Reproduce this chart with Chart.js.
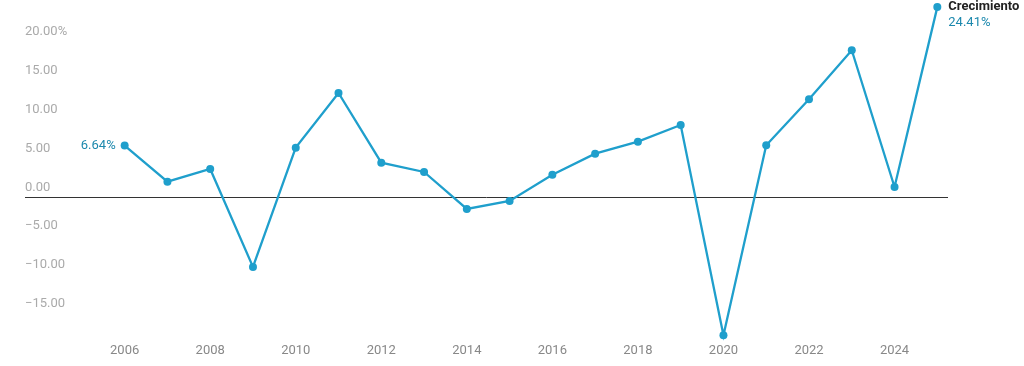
<!DOCTYPE html>
<html>
<head>
<meta charset="utf-8">
<script src="https://cdn.jsdelivr.net/npm/chart.js@4"></script>
<style>
  html, body { margin: 0; padding: 0; background: #fff; }
  #wrap { width: 1024px; height: 366px; }
</style>
</head>
<body>
<div id="wrap"><canvas id="growthChart" width="1024" height="366"></canvas></div>
<script>
// Crecimiento anual (%)
const years = [2006, 2007, 2008, 2009, 2010, 2011, 2012, 2013, 2014, 2015,
               2016, 2017, 2018, 2019, 2020, 2021, 2022, 2023, 2024, 2025];
const growth = [6.64, 2.00, 3.63, -8.95, 6.37, 13.39, 4.44, 3.25, -1.50, -0.47,
                2.90, 5.60, 7.14, 9.28, -17.72, 6.68, 12.58, 18.87, 1.32, 24.41];
const yTicks = [-15, -10, -5, 0, 5, 10, 15, 20];
const xTicks = years.filter((y, i) => i % 2 === 0);
const seriesName = 'Crecimiento';

const lineBlue = '#1f9fcc';
const labelBlue = '#1b88ad';
const font = "Roboto, 'Noto Sans', sans-serif";

function fmt(v) {
  const s = Math.abs(v).toFixed(2);
  return v < 0 ? '\u2212' + s : s;
}

// labels for first and last point
const endLabels = {
  id: 'endLabels',
  afterDatasetsDraw(chart) {
    const pts = chart.getDatasetMeta(0).data;
    const first = pts[0], last = pts[pts.length - 1];
    const ctx = chart.ctx;
    ctx.save();
    ctx.textBaseline = 'middle';
    ctx.font = '13px ' + font;
    ctx.fillStyle = labelBlue;
    ctx.textAlign = 'right';
    ctx.fillText(growth[0].toFixed(2) + '%', first.x - 9, first.y);
    ctx.textAlign = 'left';
    ctx.fillText(growth[growth.length - 1].toFixed(2) + '%', last.x + 11, last.y + 16);
    ctx.font = 'bold 13px ' + font;
    ctx.fillStyle = '#222';
    ctx.fillText(seriesName, last.x + 11, last.y);
    ctx.restore();
  }
};

const data = {
  datasets: [{
    label: seriesName,
    data: years.map((y, i) => ({ x: y, y: growth[i] })),
    borderColor: lineBlue,
    backgroundColor: lineBlue,
    borderWidth: 2.3,
    pointRadius: 4,
    pointHoverRadius: 4,
    pointBorderWidth: 0,
    tension: 0,
    clip: false
  }]
};

const config = {
  type: 'line',
  data: data,
  options: {
    responsive: false,
    animation: false,
    layout: { padding: { top: 0, right: 76, left: 0, bottom: 0 } },
    plugins: {
      legend: { display: false },
      tooltip: { enabled: false }
    },
    scales: {
      x: {
        type: 'linear',
        min: 2003.67,
        max: 2025.25,
        afterBuildTicks: (scale) => { scale.ticks = xTicks.map(v => ({ value: v })); },
        afterFit: (scale) => { scale.height = 26; },
        grid: { display: false, drawTicks: false },
        border: { display: false },
        ticks: {
          padding: 3,
          maxRotation: 0,
          autoSkip: false,
          color: '#888',
          font: { family: font, size: 13 },
          callback: (v) => String(v)
        }
      },
      y: {
        min: -18.32,
        max: 24.81,
        afterBuildTicks: (scale) => { scale.ticks = yTicks.map(v => ({ value: v })); },
        afterFit: (scale) => {
          scale.width = 25;
          scale.paddingTop = 0;
          scale.paddingBottom = 0;
        },
        grid: {
          drawTicks: false,
          lineWidth: 1,
          color: (c) => (c.tick && c.tick.value === 0) ? '#333' : 'rgba(0,0,0,0)'
        },
        border: { display: false },
        ticks: {
          mirror: true,
          padding: 0,
          labelOffset: -10,
          color: '#aaa',
          font: { family: font, size: 13 },
          callback: (v) => v === 20 ? fmt(v) + '%' : fmt(v)
        }
      }
    }
  },
  plugins: [endLabels]
};

var chart_area = document.getElementById('growthChart');
var growthChart = new Chart(chart_area, config);
</script>
</body>
</html>
